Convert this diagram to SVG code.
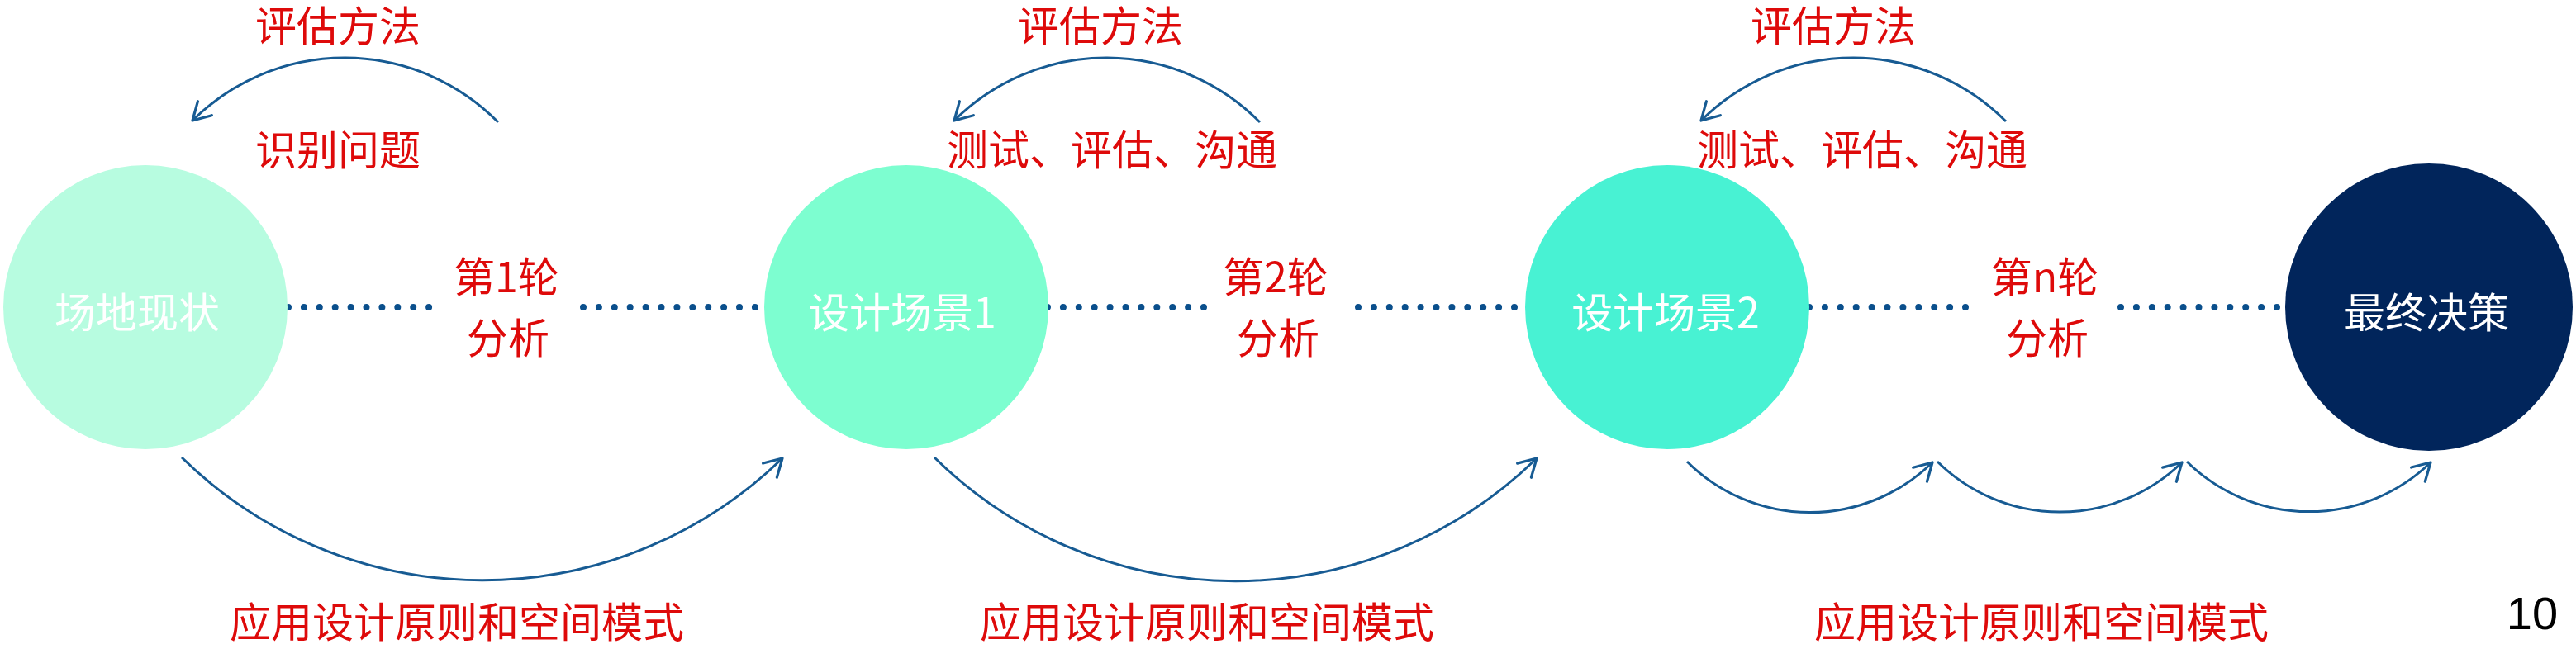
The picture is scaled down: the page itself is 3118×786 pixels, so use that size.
<svg xmlns="http://www.w3.org/2000/svg" width="3118" height="786" viewBox="0 0 3118 786">
  <style>
    .node-label { font-family: "Noto Sans CJK SC", "Liberation Sans", sans-serif; font-size: 50px; fill: #ffffff; text-anchor: middle; }
    .red { font-family: "Noto Sans CJK SC", "Liberation Sans", sans-serif; font-size: 50px; fill: #de0a0a; text-anchor: middle; }
    .arc { fill: none; stroke: #175b93; stroke-width: 3; marker-end: url(#arrow); }
    .dots { stroke: #0a4f8c; stroke-width: 8; stroke-linecap: round; stroke-dasharray: 0 18.9; }
  </style>
  <defs>
    <marker id="arrow" markerUnits="userSpaceOnUse" markerWidth="40" markerHeight="40" viewBox="-30 -20 40 40" refX="0" refY="0" orient="auto" overflow="visible">
      <path d="M -21 -12 L 0 0 L -21 12" fill="none" stroke="#175b93" stroke-width="3.2" stroke-linecap="round" stroke-linejoin="round"/>
    </marker>
  </defs>
  <rect width="3118" height="786" fill="#ffffff"/>

  <g id="connectors">
    <line class="dots" x1="349" y1="372" x2="522" y2="372"/>
    <line class="dots" x1="706" y1="372" x2="920" y2="372"/>
    <line class="dots" x1="1268" y1="372" x2="1458" y2="372"/>
    <line class="dots" x1="1644" y1="372" x2="1838" y2="372"/>
    <line class="dots" x1="2190" y1="372" x2="2384" y2="372"/>
    <line class="dots" x1="2567" y1="372" x2="2762" y2="372"/>

    <path class="arc" d="M 603 148 A 261 261 0 0 0 233 146"/>
    <path class="arc" d="M 1525 148 A 261 261 0 0 0 1155 146"/>
    <path class="arc" d="M 2428 147 A 261 261 0 0 0 2059 146"/>

    <path class="arc" d="M 220 554 A 520 520 0 0 0 947 555"/>
    <path class="arc" d="M 1131 554 A 520 520 0 0 0 1860 555"/>

    <path class="arc" d="M 2042 559 A 211 211 0 0 0 2339 560"/>
    <path class="arc" d="M 2345 559 A 211 211 0 0 0 2641 560"/>
    <path class="arc" d="M 2647 559 A 211 211 0 0 0 2942 560"/>
  </g>

  <g id="node-site">
    <circle cx="176" cy="372" r="172" fill="#b7fce0"/>
    <text class="node-label" x="166" y="397">场地现状</text>
  </g>
  <g id="node-scenario1">
    <circle cx="1097" cy="372" r="172" fill="#7dfed0"/>
    <text class="node-label" x="1092" y="397">设计场景1</text>
  </g>
  <g id="node-scenario2">
    <circle cx="2018" cy="372" r="172" fill="#48f2d3"/>
    <text class="node-label" x="2016" y="397">设计场景2</text>
  </g>
  <g id="node-final">
    <circle cx="2940" cy="372" r="174" fill="#01255b"/>
    <text class="node-label" x="2937" y="397">最终决策</text>
  </g>

  <g id="labels">
    <text class="red" x="409" y="50">评估方法</text>
    <text class="red" x="409" y="200">识别问题</text>
    <text class="red" x="1332" y="50">评估方法</text>
    <text class="red" x="1346" y="200">测试、评估、沟通</text>
    <text class="red" x="2219" y="50">评估方法</text>
    <text class="red" x="2254" y="200">测试、评估、沟通</text>

    <text class="red" x="613" y="354">第1轮</text>
    <text class="red" x="615" y="428">分析</text>
    <text class="red" x="1544" y="354">第2轮</text>
    <text class="red" x="1547" y="428">分析</text>
    <text class="red" x="2475" y="354">第n轮</text>
    <text class="red" x="2478" y="428">分析</text>

    <text class="red" x="553" y="772">应用设计原则和空间模式</text>
    <text class="red" x="1461" y="772">应用设计原则和空间模式</text>
    <text class="red" x="2471" y="772">应用设计原则和空间模式</text>

    <text x="3065" y="762" font-family="Liberation Sans, Arial, sans-serif" font-size="56" fill="#000000" text-anchor="middle">10</text>
  </g>
</svg>
